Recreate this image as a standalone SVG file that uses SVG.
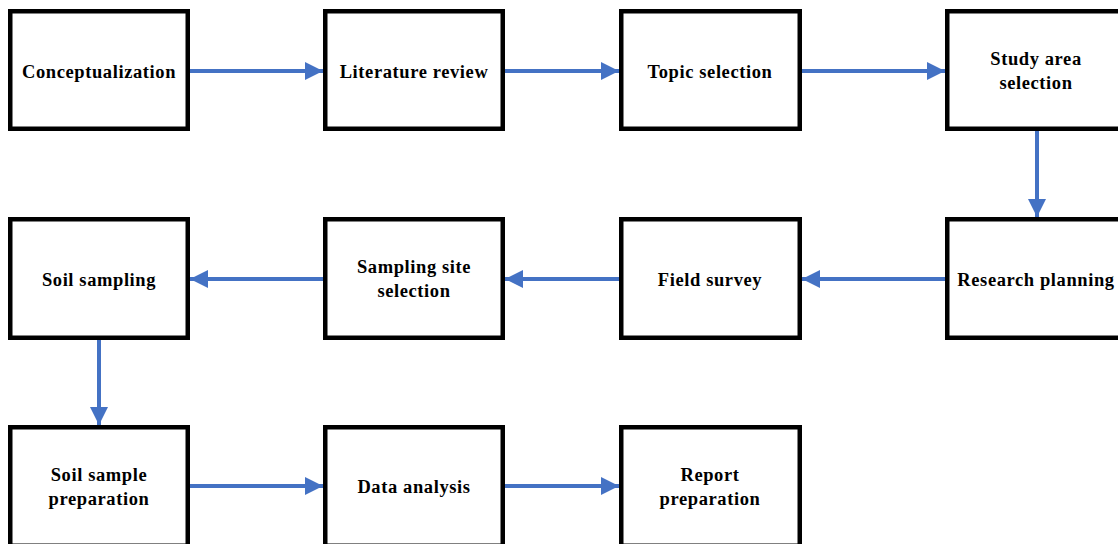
<svg xmlns="http://www.w3.org/2000/svg" width="1118" height="544" viewBox="0 0 1118 544">
<style>
.box{fill:#fff;stroke:#000;stroke-width:4.5}
.t{font-family:"Liberation Serif","Times New Roman",serif;font-weight:bold;font-size:18.5px;letter-spacing:0.6px;fill:#000;text-anchor:middle}
.c{stroke:#4472C4;stroke-width:4;fill:none}
</style>
<defs>
<marker id="ah" markerUnits="userSpaceOnUse" markerWidth="20" markerHeight="18" refX="18" refY="9" orient="auto">
<path d="M0,0 L18,9 L0,18 Z" fill="#4472C4"/>
</marker>
</defs>
<rect width="1118" height="544" fill="#fff"/>
<g id="connectors">
<line class="c" x1="190" y1="71" x2="323" y2="71" marker-end="url(#ah)"/>
<line class="c" x1="505" y1="71" x2="619" y2="71" marker-end="url(#ah)"/>
<line class="c" x1="802" y1="71" x2="945" y2="71" marker-end="url(#ah)"/>
<line class="c" x1="1037" y1="131" x2="1037" y2="217" marker-end="url(#ah)"/>
<line class="c" x1="945" y1="279" x2="802" y2="279" marker-end="url(#ah)"/>
<line class="c" x1="619" y1="279" x2="505" y2="279" marker-end="url(#ah)"/>
<line class="c" x1="323" y1="279" x2="190" y2="279" marker-end="url(#ah)"/>
<line class="c" x1="99" y1="340" x2="99" y2="425" marker-end="url(#ah)"/>
<line class="c" x1="190" y1="486" x2="323" y2="486" marker-end="url(#ah)"/>
<line class="c" x1="505" y1="486" x2="619" y2="486" marker-end="url(#ah)"/>
</g>
<g id="n1"><rect class="box" x="10.25" y="11.25" width="177.5" height="117.5"/><text class="t" x="99" y="77.5">Conceptualization</text></g>
<g id="n2"><rect class="box" x="325.25" y="11.25" width="177.5" height="117.5"/><text class="t" x="414" y="77.5">Literature review</text></g>
<g id="n3"><rect class="box" x="621.25" y="11.25" width="178.5" height="117.5"/><text class="t" x="710" y="77.5">Topic selection</text></g>
<g id="n4"><rect class="box" x="947.25" y="11.25" width="178.5" height="117.5"/><text class="t" x="1036" y="64.5">Study area</text><text class="t" x="1036" y="88.5">selection</text></g>
<g id="n5"><rect class="box" x="947.25" y="219.25" width="178.5" height="118.5"/><text class="t" x="1036" y="285.5">Research planning</text></g>
<g id="n6"><rect class="box" x="621.25" y="219.25" width="178.5" height="118.5"/><text class="t" x="710" y="285.5">Field survey</text></g>
<g id="n7"><rect class="box" x="325.25" y="219.25" width="177.5" height="118.5"/><text class="t" x="414" y="272.5">Sampling site</text><text class="t" x="414" y="296.5">selection</text></g>
<g id="n8"><rect class="box" x="10.25" y="219.25" width="177.5" height="118.5"/><text class="t" x="99" y="285.5">Soil sampling</text></g>
<g id="n9"><rect class="box" x="10.25" y="427.25" width="177.5" height="118.5"/><text class="t" x="99" y="480.5">Soil sample</text><text class="t" x="99" y="504.5">preparation</text></g>
<g id="n10"><rect class="box" x="325.25" y="427.25" width="177.5" height="118.5"/><text class="t" x="414" y="492.5">Data analysis</text></g>
<g id="n11"><rect class="box" x="621.25" y="427.25" width="178.5" height="118.5"/><text class="t" x="710" y="480.5">Report</text><text class="t" x="710" y="504.5">preparation</text></g>
</svg>
